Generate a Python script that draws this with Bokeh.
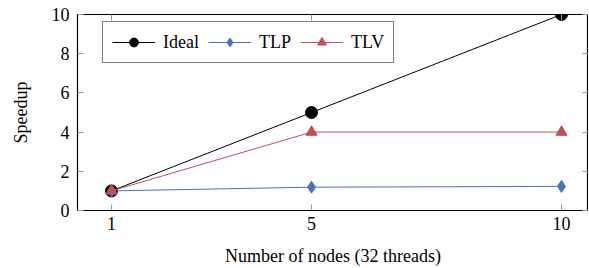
from bokeh.plotting import figure
from bokeh.models import FixedTicker, LinearAxis, Range1d, Legend
from bokeh.embed import file_html
from bokeh.resources import INLINE

nodes = [1, 5, 10]
ideal = [1, 5, 10]
tlp = [1, 1.19, 1.23]
tlv = [1, 4, 4]
x_ticks = [1, 5, 10]
y_ticks = [0, 2, 4, 6, 8, 10]

FONT = "Liberation Serif"
BLUE = "#4c72b0"
RED = "#c44e52"

p = figure(width=588, height=268, output_backend="svg", toolbar_location=None,
           x_range=Range1d(0.32, 10.54), y_range=Range1d(0, 10),
           min_border_left=77, min_border_right=0, min_border_top=14, min_border_bottom=57)
p.background_fill_color = "white"
p.border_fill_color = "white"
p.outline_line_color = "black"
p.outline_line_width = 1.2
p.grid.visible = False

r1 = p.line(nodes, ideal, line_color="black", line_width=1)
s1 = p.scatter(nodes, ideal, marker="circle", size=12, fill_color="black", line_color="black")
r2 = p.line(nodes, tlp, line_color=BLUE, line_width=1)
s2 = p.scatter(nodes, tlp, marker="diamond", size=12, fill_color=BLUE, line_color=BLUE)
r3 = p.line(nodes, tlv, line_color=RED, line_width=1)
s3 = p.scatter(nodes, tlv, marker="triangle", size=11, fill_color=RED, line_color=RED)

for ax in [p.xaxis[0], p.yaxis[0]]:
    ax.axis_line_color = None
    ax.major_tick_out = 0
    ax.major_tick_in = 6
    ax.major_tick_line_color = "#999999"
    ax.minor_tick_line_color = None
    ax.major_label_text_font = FONT
    ax.major_label_text_font_size = "18px"
    ax.major_label_text_color = "black"
    ax.axis_label_text_font = FONT
    ax.axis_label_text_font_size = "18px"
    ax.axis_label_text_font_style = "normal"
    ax.axis_label_text_color = "black"
    ax.major_label_standoff = 8

p.xaxis[0].ticker = FixedTicker(ticks=x_ticks)
p.yaxis[0].ticker = FixedTicker(ticks=y_ticks)
p.xaxis[0].axis_label = "Number of nodes (32 threads)"
p.yaxis[0].axis_label = "Speedup"
p.xaxis[0].major_label_standoff = 6
p.xaxis[0].axis_label_standoff = 13
p.yaxis[0].axis_label_standoff = 18

for loc, tk in [("above", x_ticks), ("right", y_ticks)]:
    ax = LinearAxis(ticker=FixedTicker(ticks=tk))
    ax.axis_line_color = None
    ax.major_tick_out = 0
    ax.major_tick_in = 6
    ax.major_tick_line_color = "#999999"
    ax.minor_tick_line_color = None
    ax.major_label_overrides = {t: "" for t in tk}
    ax.major_label_standoff = 0
    p.add_layout(ax, loc)

legend = Legend(items=[("Ideal", [r1, s1]), ("TLP", [r2, s2]), ("TLV", [r3, s3])],
                orientation="horizontal")
legend.label_text_font = FONT
legend.label_text_font_size = "18px"
legend.label_text_color = "black"
legend.glyph_width = 43
legend.glyph_height = 22
legend.label_height = 22
legend.label_standoff = 8
legend.spacing = 9
legend.padding = 9
legend.margin = 0
legend.border_line_color = "black"
legend.border_line_width = 1
legend.background_fill_alpha = 1
legend.location = (25, 147)
p.add_layout(legend, "center")

open("out.html", "w").write(file_html(p, INLINE))
